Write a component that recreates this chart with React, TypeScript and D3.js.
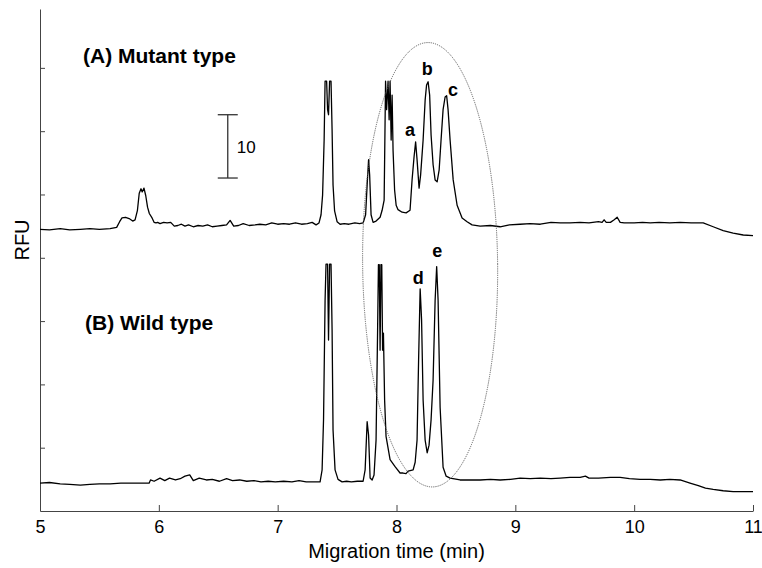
import React, { useEffect, useRef } from 'react';
import * as d3 from 'd3';

const width = 762;
const height = 568;
const margin = { top: 9, right: 9, bottom: 57, left: 40 };

const xTicks = [5, 6, 7, 8, 9, 10, 11];
const yTicks = [10, 20, 30, 40, 50, 60, 70];

// [migration time (min), RFU]
const mutantTrace: [number, number][] = [
  [5.0, 44.5], [5.08, 44.4], [5.17, 44.6], [5.25, 44.4], [5.34, 44.5], [5.42, 44.6], [5.5, 44.5],
  [5.59, 44.6], [5.645, 44.8], [5.67, 45.7], [5.69, 46.3], [5.72, 46.4], [5.75, 46.2], [5.78, 45.8],
  [5.8, 46.0], [5.82, 47.5], [5.835, 50.2], [5.85, 50.9], [5.86, 50.4], [5.875, 51.0], [5.89, 49.8],
  [5.905, 48.0], [5.92, 47.0], [5.943, 46.3], [5.96, 45.6], [5.976, 45.5], [5.99, 45.6], [6.01, 45.4],
  [6.04, 45.6], [6.07, 45.5], [6.1, 45.6], [6.13, 45.0], [6.16, 45.1], [6.19, 45.3], [6.22, 45.0],
  [6.25, 45.2], [6.29, 44.9], [6.33, 45.1], [6.37, 45.0], [6.41, 45.2], [6.45, 44.9], [6.49, 45.0],
  [6.53, 45.1], [6.57, 45.2], [6.6, 45.9], [6.63, 45.0], [6.67, 45.1], [6.71, 45.4], [6.76, 45.1],
  [6.81, 45.2], [6.85, 45.3], [6.9, 45.2], [6.95, 45.5], [7.0, 45.3], [7.05, 45.4], [7.1, 45.3],
  [7.15, 45.5], [7.2, 45.3], [7.25, 45.4], [7.29, 45.6], [7.323, 45.2], [7.348, 45.5], [7.365, 46.8],
  [7.378, 49.9], [7.391, 58.6], [7.399, 67.9], [7.412, 67.9], [7.42, 63.4], [7.428, 62.6], [7.437, 67.9],
  [7.449, 67.9], [7.458, 60.2], [7.466, 51.5], [7.479, 47.4], [7.5, 45.7], [7.525, 45.3], [7.56, 45.4],
  [7.6, 45.3], [7.65, 45.5], [7.69, 45.4], [7.719, 45.5], [7.74, 46.8], [7.753, 51.5], [7.765, 55.5],
  [7.774, 53.1], [7.786, 46.8], [7.803, 45.6], [7.828, 45.8], [7.862, 46.4], [7.879, 47.5], [7.896, 49.1],
  [7.908, 67.9], [7.917, 63.4], [7.929, 67.9], [7.938, 61.8], [7.946, 67.9], [7.955, 58.6], [7.963, 65.7],
  [7.971, 57.0], [7.984, 50.7], [7.997, 48.3], [8.013, 47.6], [8.047, 47.2], [8.081, 47.1], [8.114, 47.5],
  [8.131, 52.3], [8.148, 56.0], [8.161, 58.3], [8.173, 55.5], [8.19, 51.0], [8.203, 53.1], [8.224, 58.6],
  [8.241, 64.9], [8.253, 67.3], [8.266, 67.8], [8.279, 65.7], [8.291, 59.4], [8.308, 54.7], [8.325, 52.3],
  [8.342, 52.0], [8.359, 53.9], [8.375, 58.6], [8.392, 63.4], [8.409, 65.4], [8.422, 65.6], [8.434, 63.4],
  [8.451, 58.6], [8.477, 52.3], [8.51, 48.3], [8.552, 46.3], [8.594, 45.7], [8.636, 45.2], [8.704, 45.0],
  [8.79, 45.1], [8.872, 44.9], [8.95, 45.2], [9.04, 45.3], [9.125, 45.4], [9.21, 45.3], [9.3, 45.6],
  [9.377, 45.5], [9.46, 45.5], [9.545, 45.6], [9.62, 45.5], [9.7, 45.7], [9.73, 45.6], [9.747, 46.0],
  [9.765, 45.6], [9.8, 45.6], [9.832, 46.0], [9.857, 46.4], [9.882, 45.6], [9.916, 45.5], [10.0, 45.5],
  [10.07, 45.6], [10.135, 45.5], [10.21, 45.6], [10.3, 45.5], [10.387, 45.6], [10.48, 45.5], [10.581, 45.5],
  [10.665, 44.9], [10.749, 44.3], [10.833, 43.9], [10.918, 43.6], [11.0, 43.5],
];

const wildTrace: [number, number][] = [
  [5.0, 4.4], [5.08, 4.5], [5.17, 4.3], [5.25, 4.2], [5.34, 4.1], [5.42, 4.2], [5.5, 4.3], [5.59, 4.3],
  [5.68, 4.4], [5.76, 4.4], [5.85, 4.4], [5.918, 4.4], [5.93, 4.9], [5.96, 4.7], [6.01, 5.2], [6.05, 4.8],
  [6.09, 5.2], [6.14, 4.9], [6.18, 5.1], [6.22, 5.5], [6.26, 5.7], [6.29, 4.8], [6.34, 5.2], [6.4, 4.9],
  [6.45, 5.0], [6.51, 4.7], [6.57, 5.1], [6.62, 4.8], [6.68, 4.9], [6.74, 4.7], [6.8, 4.8], [6.86, 4.6],
  [6.92, 4.7], [6.98, 4.6], [7.05, 4.7], [7.12, 4.6], [7.18, 4.8], [7.24, 4.6], [7.3, 4.6], [7.34, 4.6],
  [7.357, 4.6], [7.374, 6.5], [7.386, 14.4], [7.399, 33.3], [7.407, 39.0], [7.42, 39.0], [7.428, 27.0],
  [7.437, 39.0], [7.449, 39.0], [7.458, 28.6], [7.466, 12.8], [7.483, 6.5], [7.508, 5.0], [7.542, 4.6],
  [7.58, 4.7], [7.62, 4.6], [7.67, 4.7], [7.719, 4.7], [7.736, 6.5], [7.753, 14.1], [7.765, 12.0],
  [7.778, 5.2], [7.795, 4.9], [7.811, 5.7], [7.828, 11.2], [7.841, 28.6], [7.848, 38.9], [7.855, 38.9],
  [7.862, 25.4], [7.869, 38.9], [7.876, 38.9], [7.883, 25.4], [7.89, 28.1], [7.9, 17.5], [7.912, 11.8],
  [7.946, 8.1], [7.988, 7.0], [8.03, 6.0], [8.055, 6.0], [8.08, 5.9], [8.098, 6.3], [8.14, 6.5],
  [8.157, 7.7], [8.173, 11.2], [8.186, 23.9], [8.199, 35.1], [8.211, 30.2], [8.224, 17.5], [8.241, 11.2],
  [8.258, 9.2], [8.274, 10.4], [8.291, 14.4], [8.308, 20.7], [8.325, 33.3], [8.338, 38.6], [8.35, 33.3],
  [8.367, 16.4], [8.392, 6.9], [8.418, 5.5], [8.451, 5.2], [8.535, 4.9], [8.62, 4.9], [8.704, 4.9],
  [8.79, 5.0], [8.872, 4.9], [8.96, 5.0], [9.04, 5.2], [9.125, 5.1], [9.21, 5.2], [9.3, 5.1], [9.377, 5.2],
  [9.46, 5.3], [9.545, 5.3], [9.59, 5.5], [9.62, 5.2], [9.7, 5.2], [9.8, 5.3], [9.882, 5.3], [9.96, 5.1],
  [10.05, 5.0], [10.135, 5.0], [10.22, 4.9], [10.3, 5.0], [10.387, 4.9], [10.47, 4.4], [10.54, 4.0],
  [10.6, 3.6], [10.665, 3.4], [10.749, 3.2], [10.833, 3.05], [10.92, 3.05], [11.0, 3.05],
];

const panelLabels = [
  { text: '(A) Mutant type', t: 5.362, v: 70.8 },
  { text: '(B) Wild type', t: 5.379, v: 28.6 },
];

const peakLabels = [
  { text: 'a', t: 8.114, v: 59.2 },
  { text: 'b', t: 8.258, v: 68.9 },
  { text: 'c', t: 8.476, v: 65.6 },
  { text: 'd', t: 8.182, v: 35.9 },
  { text: 'e', t: 8.342, v: 40.1 },
];

const scaleBar = { t: 6.58, from: 52.6, to: 62.6, label: '10' };
const peakRegion = { t: 8.283, v: 38.9, rt: 0.568, rv: 35.1 };

const font = 'Liberation Sans, Arial, Helvetica, sans-serif';

export default function App() {
  const xAxisRef = useRef<SVGGElement>(null);
  const yAxisRef = useRef<SVGGElement>(null);

  const x = d3.scaleLinear().domain([5, 11]).range([margin.left, width - margin.right]);
  const y = d3.scaleLinear().domain([0, 79.3]).range([height - margin.bottom, margin.top]);

  const line = d3.line<[number, number]>()
    .x(d => x(d[0]))
    .y(d => y(d[1]));

  useEffect(() => {
    const gx = d3.select(xAxisRef.current!);
    gx.call(d3.axisBottom(x).tickValues(xTicks).tickFormat(d3.format('d')).tickSizeInner(-6).tickSizeOuter(0).tickPadding(9));
    gx.selectAll('path, line').attr('stroke', '#444');
    gx.selectAll('text').attr('font-size', 18).attr('font-family', font).attr('fill', '#000');

    const gy = d3.select(yAxisRef.current!);
    gy.call(d3.axisLeft(y).tickValues(yTicks).tickSizeInner(-5).tickSizeOuter(0).tickFormat(() => ''));
    gy.selectAll('path, line').attr('stroke', '#444');
  }, []);

  const cx = x(peakRegion.t);
  const cy = y(peakRegion.v);

  return (
    <svg width={width} height={height} style={{ position: 'absolute', left: 0, top: 0, background: '#fff' }}>
      <g ref={xAxisRef} transform={`translate(0,${height - margin.bottom})`} />
      <g ref={yAxisRef} transform={`translate(${margin.left},0)`} />

      <path d={line(mutantTrace) ?? ''} fill="none" stroke="#000" strokeWidth={1.3} strokeLinejoin="round" />
      <path d={line(wildTrace) ?? ''} fill="none" stroke="#000" strokeWidth={1.3} strokeLinejoin="round" />

      <ellipse
        cx={cx}
        cy={cy}
        rx={x(peakRegion.t + peakRegion.rt) - cx}
        ry={cy - y(peakRegion.v + peakRegion.rv)}
        transform={`rotate(-0.6,${cx},${cy})`}
        fill="none"
        stroke="#555"
        strokeWidth={0.9}
        strokeDasharray="1.2 1"
      />

      {/* 10 RFU scale bar */}
      <g stroke="#333" strokeWidth={1.3}>
        <line x1={x(scaleBar.t)} x2={x(scaleBar.t)} y1={y(scaleBar.from)} y2={y(scaleBar.to)} />
        <line x1={x(scaleBar.t) - 10} x2={x(scaleBar.t) + 10} y1={y(scaleBar.from)} y2={y(scaleBar.from)} />
        <line x1={x(scaleBar.t) - 10} x2={x(scaleBar.t) + 10} y1={y(scaleBar.to)} y2={y(scaleBar.to)} />
      </g>
      <text x={x(scaleBar.t) + 9} y={(y(scaleBar.from) + y(scaleBar.to)) / 2 + 7} fontFamily={font} fontSize={17}>
        {scaleBar.label}
      </text>

      {panelLabels.map(d => (
        <text key={d.text} x={x(d.t)} y={y(d.v)} fontFamily={font} fontSize={21} fontWeight="bold">
          {d.text}
        </text>
      ))}
      {peakLabels.map(d => (
        <text key={d.text} x={x(d.t)} y={y(d.v)} textAnchor="middle" fontFamily={font} fontSize={18} fontWeight="bold">
          {d.text}
        </text>
      ))}

      <text x={(margin.left + width - margin.right) / 2} y={558} textAnchor="middle" fontFamily={font} fontSize={20}>
        Migration time (min)
      </text>
      <text transform={`translate(29,240) rotate(-90)`} textAnchor="middle" fontFamily={font} fontSize={20}>
        RFU
      </text>
    </svg>
  );
}
